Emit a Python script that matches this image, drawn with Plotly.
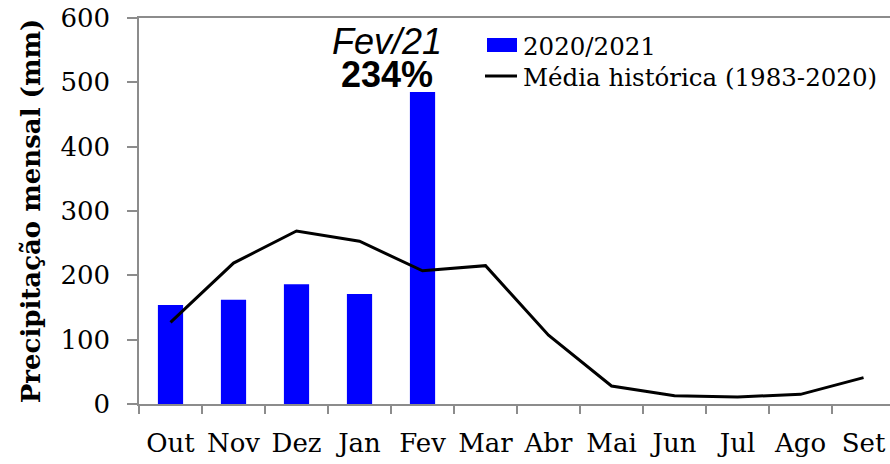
import plotly.graph_objects as go

# Monthly rainfall, hydrological year Oct/2020 - Sep/2021
meses = ["Out", "Nov", "Dez", "Jan", "Fev", "Mar", "Abr", "Mai", "Jun", "Jul", "Ago", "Set"]
chuva_2020_2021 = [154, 162, 186, 171, 485, None, None, None, None, None, None, None]
media_historica = [127, 219, 269, 253, 207, 215, 107, 28, 13, 11, 15, 41]

nome_ano = "2020/2021"
nome_media = "Média histórica (1983-2020)"
titulo_y = "Precipitação mensal (mm)"
anotacao_mes = "Fev/21"
anotacao_pct = "234%"

AXIS_GRAY = "#8c8c8c"
BAR_BLUE = "#0000ff"
SERIF = "DejaVu Serif"
SANS = "Liberation Sans, Arial, sans-serif"

# plot area in pixels
L, T, B, W, H = 139, 18, 60, 890, 464
PW, PH = W - L, H - T - B


def px_x(p):
    return (p - L) / PW


def px_y(p):
    return (H - B - p) / PH


fig = go.Figure()
fig.add_trace(go.Bar(
    x=meses, y=chuva_2020_2021, name=nome_ano,
    marker=dict(color=BAR_BLUE, line=dict(width=0)),
    width=0.4, showlegend=False,
))
fig.add_trace(go.Scatter(
    x=meses, y=media_historica, name=nome_media,
    mode="lines", line=dict(color="black", width=3), showlegend=False,
))

# Legend keys drawn as shapes with text next to them
fig.add_shape(type="rect", xref="paper", yref="paper",
              x0=px_x(487), x1=px_x(517), y0=px_y(52), y1=px_y(38),
              fillcolor=BAR_BLUE, line=dict(width=0))
fig.add_shape(type="line", xref="paper", yref="paper",
              x0=px_x(485), x1=px_x(517), y0=px_y(76), y1=px_y(76),
              line=dict(color="black", width=3))
for txt, yc in [(nome_ano, 46), (nome_media, 77)]:
    fig.add_annotation(
        x=px_x(521), y=px_y(yc), xref="paper", yref="paper",
        text=txt, showarrow=False, xanchor="left", yanchor="middle",
        font=dict(family=SERIF, size=24.5, color="black"),
    )

# Highlight of the February anomaly: a two-line label with tight line spacing
# (line height follows the 25px base font, glyphs are drawn at 36px)
fig.add_annotation(
    x=4, xref="x", xshift=-36, y=px_y(58), yref="paper",
    text=("<span style='font-size:36px'><i>" + anotacao_mes + "</i></span><br>"
          "<span style='font-size:36px'><b>" + anotacao_pct + "</b></span>"),
    showarrow=False, align="center",
    font=dict(family=SANS, size=25, color="black"),
    xanchor="center", yanchor="middle", borderpad=0,
)

fig.update_layout(
    width=W, height=H,
    margin=dict(l=L, r=0, t=T, b=B),
    plot_bgcolor="white", paper_bgcolor="white",
    showlegend=False,
)
fig.update_xaxes(
    type="category", range=[-0.5, 11.42], automargin=False,
    showline=True, linecolor=AXIS_GRAY, linewidth=1.5, mirror=True,
    ticks="outside", tickson="boundaries", ticklen=8, tickcolor=AXIS_GRAY, tickwidth=1.5,
    tickangle=0, ticklabelstandoff=15,
    tickfont=dict(family=SERIF, size=26, color="black"),
    showgrid=False, zeroline=False,
)
fig.update_yaxes(
    range=[0, 600], dtick=100, automargin=False,
    showline=True, linecolor=AXIS_GRAY, linewidth=1.5,
    ticks="outside", ticklen=10, tickcolor=AXIS_GRAY, tickwidth=1.5,
    ticklabelstandoff=12,
    tickfont=dict(family=SERIF, size=26, color="black"),
    showgrid=False, zeroline=False,
    title=dict(text="<b>" + titulo_y + "</b>", font=dict(family=SERIF, size=26, color="black"), standoff=12),
)

fig.write_html("out.html")
